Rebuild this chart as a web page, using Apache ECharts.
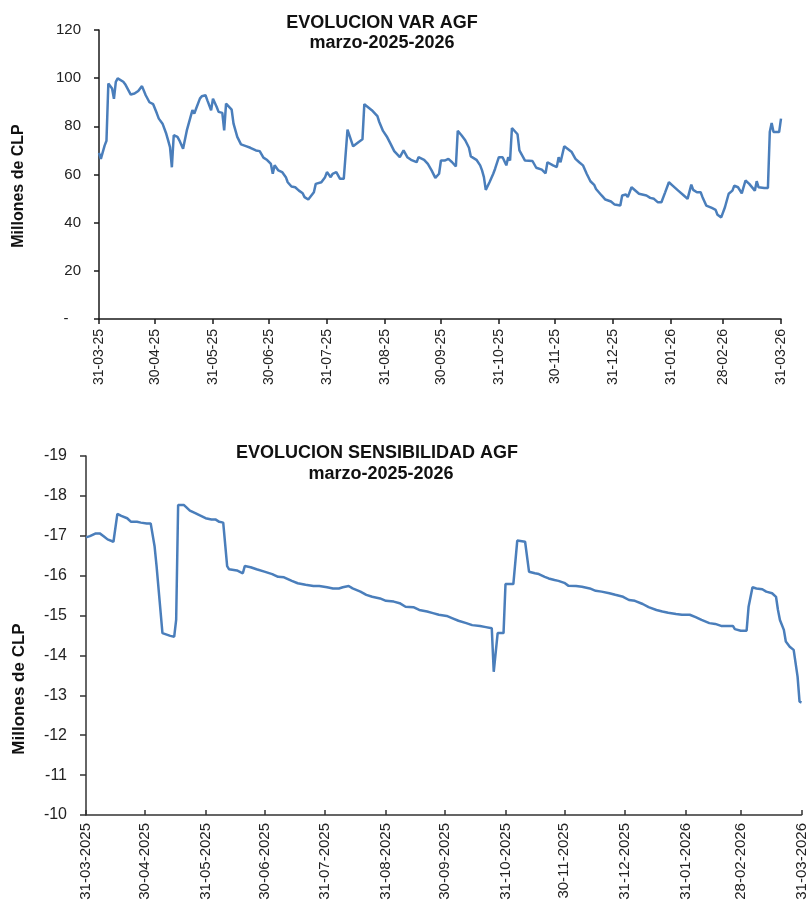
<!DOCTYPE html>
<html><head><meta charset="utf-8">
<script src="https://cdn.jsdelivr.net/npm/echarts@6/dist/echarts.min.js"></script>
<style>html,body{margin:0;padding:0;background:#fff}#c{width:809px;height:908px}</style>
</head><body><div id="c"></div>
<script>
// Days counted from 31-03-2025
const varDays = [0,1,3,4,5,7,8,9,10,11,13,14,15,17,19,21,23,25,27,29,31,32,34,36,37,38,39,40,42,43,45,46,47,49,50,51,52,54,55,57,58,60,61,63,64,66,67,68,69,71,72,74,76,79,81,82,84,86,88,90,92,93,94,96,98,100,101,103,105,107,109,110,112,113,115,116,117,119,121,122,124,125,127,129,131,133,136,139,141,142,143,146,149,150,152,154,156,158,161,163,165,167,170,171,174,176,178,180,182,183,185,187,189,191,192,194,196,198,199,202,204,205,206,207,209,211,212,214,216,218,219,220,221,224,225,228,232,234,237,239,240,243,245,246,247,249,250,253,255,257,259,261,263,265,266,269,271,274,276,279,280,282,283,285,286,289,290,293,295,297,299,301,303,305,307,310,313,315,317,318,320,322,323,325,328,330,331,333,335,337,339,340,342,344,346,348,351,352,353,356,358,359,360,361,364,365];
const varValues = [69,66.5,72,74,97.8,95.7,91.4,98.5,99.9,100.3,98.5,97.5,97,93.2,93.6,94.7,96.7,92.9,90,89.2,85.3,83.2,81.1,76.9,74.2,71.4,63,76.3,75.6,74.2,70.7,70.7,78.3,83.9,86.7,85.3,87.4,91.5,92.5,92.9,90.8,86.7,91.5,88,86,85.6,78.3,89.4,88.8,86.9,81.1,75.6,72.5,71.7,71.1,70.3,70,69.7,67,66,64.4,60.3,63.8,61.7,61,58.9,56.8,55,54.7,53.3,52.2,50.6,49.6,49.2,52.6,56.1,56.4,56.8,58.9,61,58.9,60.3,61,58.2,58.2,78.6,71.7,73.5,74.6,89.2,89.2,86.7,84.2,81.8,78.1,75.8,72.8,69.7,67.2,70,67.2,66.1,65.1,67.2,66.1,64.4,61.7,58.6,60.3,65.8,65.8,66.5,65.1,63.3,78.1,76.3,74.2,71.1,67.5,66.1,63.8,61.7,58.9,53.6,56.8,60.3,62.4,67.2,67.2,63.8,67.2,65.8,79.3,76.7,70,65.8,65.6,62.8,62,60.5,65.1,63.8,63.1,67.2,65.1,71.7,71.1,69.3,66.5,65.1,63.8,60.3,57.2,55.7,54,51.3,49.6,48.8,47.5,47.1,51.3,51.7,50.6,54.7,54.4,52,52.2,51.3,50.3,49.9,48.5,48.5,52.6,56.8,55.4,53.3,51.3,49.9,55.8,53.6,52.6,52.6,50.6,47.1,46.1,45.3,43.3,42.2,46.4,52,53.3,55.4,54.7,52.2,57.5,56.1,53.3,57.2,54.7,54.4,54.4,77.6,81.4,77.6,77.6,83.2];

const sensDays = [0,2,5,7,9,11,14,15,16,18,21,23,26,28,31,33,35,36,37,39,40,43,45,46,47,50,53,56,61,64,66,68,70,72,73,77,80,81,84,87,91,95,98,101,105,108,112,116,119,123,126,129,131,134,136,140,143,146,150,153,157,160,163,167,170,174,177,180,184,187,190,194,197,201,204,207,208,210,213,214,218,219,220,224,226,229,231,234,236,239,241,244,246,250,253,257,260,263,267,270,274,277,280,284,287,291,294,297,301,304,308,311,314,318,321,324,326,330,331,334,337,338,340,342,345,347,350,352,353,354,356,357,359,361,363,364,365];
const sensValues = [-16.96,-16.99,-17.06,-17.06,-16.99,-16.91,-16.85,-16.85,-17.55,-17.5,-17.44,-17.35,-17.35,-17.33,-17.31,-17.31,-16.73,-16.24,-16.23,-14.56,-14.51,-14.49,-14.47,-14.9,-17.77,-17.77,-17.63,-17.56,-17.44,-17.41,-17.41,-17.35,-17.33,-16.24,-16.16,-16.13,-16.06,-16.24,-16.21,-16.16,-16.1,-16.04,-15.97,-15.96,-15.87,-15.81,-15.77,-15.74,-15.74,-15.71,-15.68,-15.68,-15.71,-15.74,-15.68,-15.6,-15.52,-15.47,-15.43,-15.37,-15.35,-15.31,-15.22,-15.21,-15.14,-15.1,-15.06,-15.02,-14.99,-14.93,-14.87,-14.81,-14.76,-14.74,-14.71,-14.68,-13.59,-14.56,-14.56,-15.79,-15.79,-15.75,-16.88,-16.85,-16.1,-16.06,-16.04,-15.97,-15.93,-15.89,-15.87,-15.82,-15.75,-15.74,-15.72,-15.68,-15.62,-15.6,-15.56,-15.52,-15.47,-15.39,-15.37,-15.29,-15.21,-15.14,-15.1,-15.07,-15.04,-15.02,-15.02,-14.96,-14.89,-14.81,-14.79,-14.74,-14.74,-14.74,-14.66,-14.62,-14.62,-15.22,-15.71,-15.68,-15.66,-15.6,-15.56,-15.47,-15.14,-14.89,-14.64,-14.35,-14.22,-14.14,-13.47,-12.84,-12.82];

const tickDates = ['2025-03-31','2025-04-30','2025-05-31','2025-06-30','2025-07-31','2025-08-31','2025-09-30','2025-10-31','2025-11-30','2025-12-31','2026-01-31','2026-02-28','2026-03-31'];
const varTickLabels = ['31-03-25','30-04-25','31-05-25','30-06-25','31-07-25','31-08-25','30-09-25','31-10-25','30-11-25','31-12-25','31-01-26','28-02-26','31-03-26'];
const sensTickLabels = ['31-03-2025','30-04-2025','31-05-2025','30-06-2025','31-07-2025','31-08-2025','30-09-2025','31-10-2025','30-11-2025','31-12-2025','31-01-2026','28-02-2026','31-03-2026'];

const titles = ['EVOLUCION VAR AGF','marzo-2025-2026','EVOLUCION SENSIBILIDAD AGF','marzo-2025-2026'];
const yName = 'Millones de CLP';

function utc(s){const p=s.split('-').map(Number);return Date.UTC(p[0],p[1]-1,p[2]);}
const t0 = utc(tickDates[0]);
const tickDays = tickDates.map(s=>Math.round((utc(s)-t0)/864e5));
function labelFor(labels){return function(v){let best=0,bd=Infinity;tickDays.forEach((t,i)=>{const dd=Math.abs(t-v);if(dd<bd){bd=dd;best=i;}});return labels[best];};}

const varData = varDays.map((d,i)=>[d,varValues[i]]);
const sensData = sensDays.map((d,i)=>[d,sensValues[i]]);

const FONT = "'Liberation Sans', Arial, sans-serif";
const BLUE = '#4a7ebb';
const lineC = '#1a1a1a';
const xMax = tickDays[tickDays.length-1];

const chart = echarts.init(document.getElementById('c'), null, {renderer:'canvas'});
const baseTitle = {textAlign:'center', padding:0, textStyle:{fontFamily:FONT,fontWeight:'bold',fontSize:18,color:'#111'}};
chart.setOption({
  animation:false,
  backgroundColor:'#fff',
  title:[
    Object.assign({}, baseTitle, {text:titles[0], left:382, top:14}),
    Object.assign({}, baseTitle, {text:titles[1], left:382, top:34}),
    Object.assign({}, baseTitle, {text:titles[2], left:377, top:444}),
    Object.assign({}, baseTitle, {text:titles[3], left:381, top:465})
  ],
  grid:[
    {left:99, top:30, width:682, height:289},
    {left:86, top:456, width:717, height:359}
  ],
  xAxis:[
    {type:'value', gridIndex:0, min:0, max:xMax,
     axisLine:{show:true,lineStyle:{color:lineC,width:1.5}},
     axisTick:{show:true,customValues:tickDays,length:5,lineStyle:{color:lineC,width:1.5}},
     axisLabel:{customValues:tickDays,rotate:90,margin:10,formatter:labelFor(varTickLabels),fontFamily:FONT,fontSize:14,color:'#222',hideOverlap:false},
     splitLine:{show:false}},
    {type:'value', gridIndex:0, min:0, max:xMax,
     axisLine:{show:false},
     axisTick:{show:true,inside:true,customValues:tickDays,length:5,lineStyle:{color:lineC,width:1.5}},
     axisLabel:{show:false}, splitLine:{show:false}},
    {type:'value', gridIndex:1, min:0, max:xMax,
     axisLine:{show:true,lineStyle:{color:'#333',width:1.5}},
     axisTick:{show:true,inside:true,customValues:tickDays,length:5,lineStyle:{color:'#333',width:1.5}},
     axisLabel:{customValues:tickDays,rotate:90,margin:8,formatter:labelFor(sensTickLabels),fontFamily:FONT,fontSize:15,color:'#222',hideOverlap:false},
     splitLine:{show:false}}
  ],
  yAxis:[
    {type:'value', gridIndex:0, min:0, max:120, interval:20,
     axisLine:{show:true,lineStyle:{color:lineC,width:1.5}},
     axisTick:{show:true,length:5,lineStyle:{color:lineC,width:1.5}},
     axisLabel:{margin:18,fontFamily:FONT,fontSize:15,color:'#222',formatter:v=>v===0?'-   ':String(v)},
     splitLine:{show:false}},
    {type:'value', gridIndex:0, min:0, max:120, interval:20,
     axisLine:{show:false},
     axisTick:{show:true,inside:true,length:5,lineStyle:{color:lineC,width:1.5}},
     axisLabel:{show:false}, splitLine:{show:false}},
    {type:'value', gridIndex:1, min:-19, max:-10, interval:1, inverse:true,
     axisLine:{show:true,lineStyle:{color:'#333',width:1.5}},
     axisTick:{show:true,length:6,lineStyle:{color:'#333',width:1.5}},
     axisLabel:{margin:19,fontFamily:FONT,fontSize:16,color:'#222'},
     splitLine:{show:false}}
  ],
  graphic:[
    {type:'text', x:19, y:186, rotation:Math.PI/2, style:{text:yName, textAlign:'center', textVerticalAlign:'middle', font:"bold 16px "+FONT, fill:'#111'}},
    {type:'text', x:19, y:689, rotation:Math.PI/2, style:{text:yName, textAlign:'center', textVerticalAlign:'middle', font:"bold 17px "+FONT, fill:'#111'}}
  ],
  series:[
    {type:'line', xAxisIndex:0, yAxisIndex:0, data:varData, showSymbol:false, lineStyle:{color:BLUE,width:2.5}, itemStyle:{color:BLUE}},
    {type:'line', xAxisIndex:2, yAxisIndex:2, data:sensData, showSymbol:false, lineStyle:{color:BLUE,width:2.5}, itemStyle:{color:BLUE}}
  ]
});
</script>
</body></html>
